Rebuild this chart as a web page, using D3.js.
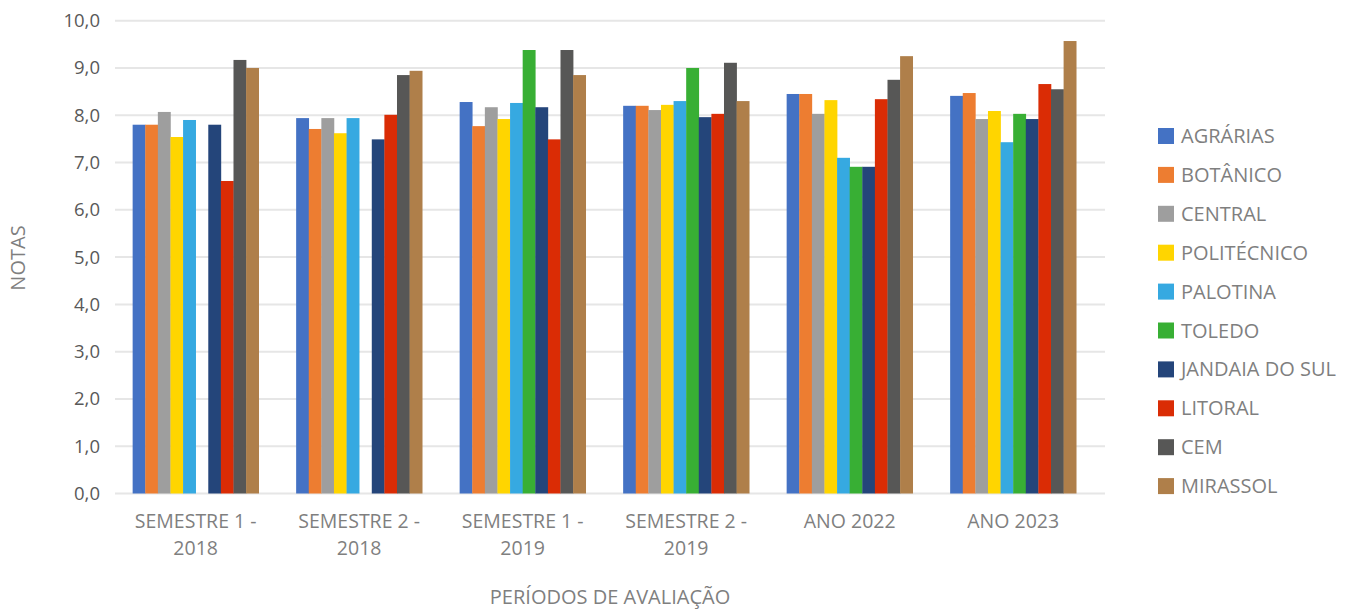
<!DOCTYPE html>
<html><head><meta charset="utf-8">
<script src="https://cdn.jsdelivr.net/npm/d3@7"></script>
<style>
body{margin:0;background:#fff;}
text{font-family:"Open Sans",sans-serif;}
</style></head>
<body><svg id="c" width="1349" height="609"></svg>
<script>
const periods = ["SEMESTRE 1 - 2018","SEMESTRE 2 - 2018","SEMESTRE 1 - 2019","SEMESTRE 2 - 2019","ANO 2022","ANO 2023"];
const periodLines = [["SEMESTRE 1 -","2018"],["SEMESTRE 2 -","2018"],["SEMESTRE 1 -","2019"],["SEMESTRE 2 -","2019"],["ANO 2022"],["ANO 2023"]];
const series = ["AGRÁRIAS","BOTÂNICO","CENTRAL","POLITÉCNICO","PALOTINA","TOLEDO","JANDAIA DO SUL","LITORAL","CEM","MIRASSOL"];
const colors = ["#4472C4","#ED7D31","#9E9E9E","#FFD500","#36A9E1","#38AF34","#24457A","#DA2C05","#575756","#AF7F4A"];
const agrarias   = [7.80, 7.94, 8.28, 8.20, 8.45, 8.41];
const botanico   = [7.80, 7.71, 7.77, 8.20, 8.45, 8.47];
const central    = [8.07, 7.94, 8.17, 8.11, 8.03, 7.92];
const politecnico= [7.54, 7.62, 7.92, 8.22, 8.32, 8.09];
const palotina   = [7.90, 7.94, 8.26, 8.30, 7.10, 7.43];
const toledo     = [0, 0, 9.38, 9.00, 6.91, 8.03];
const jandaia    = [7.80, 7.49, 8.17, 7.96, 6.91, 7.92];
const litoral    = [6.61, 8.01, 7.49, 8.03, 8.34, 8.66];
const cem        = [9.17, 8.85, 9.38, 9.11, 8.75, 8.55];
const mirassol   = [9.00, 8.94, 8.85, 8.30, 9.25, 9.57];
const yTicks = [0,1,2,3,4,5,6,7,8,9,10];
const values = [agrarias,botanico,central,politecnico,palotina,toledo,jandaia,litoral,cem,mirassol];

const svg = d3.select("#c");
const x0 = d3.scaleBand().domain(periods).range([115,1105]).paddingInner(0.229).paddingOuter(0.142).align(0.38);
const x1 = d3.scaleBand().domain(series).range([0,x0.bandwidth()]);
const y = d3.scaleLinear().domain([0,10]).range([493.5,20.7]);
const fmt = v => d3.format(".1f")(v).replace(".",",");

// gridlines
svg.append("g").selectAll("line").data(yTicks).join("line")
  .attr("x1",115).attr("x2",1105).attr("y1",d=>y(d)).attr("y2",d=>y(d))
  .attr("stroke","#E6E6E6").attr("stroke-width",2);

// y tick labels
svg.append("g").selectAll("text").data(yTicks).join("text")
  .attr("x",100).attr("y",d=>y(d)).attr("dy","0.35em").attr("text-anchor","end")
  .attr("font-size",18.5).attr("fill","#595959").text(fmt);

// bars
const groups = svg.append("g").selectAll("g").data(periods).join("g")
  .attr("transform",d=>`translate(${x0(d)},0)`);
groups.selectAll("rect").data((p,pi)=>series.map((s,si)=>({s,si,v:values[si][pi]})).filter(d=>d.v>0)).join("rect")
  .attr("x",d=>x1(d.s)).attr("width",x1.bandwidth()+0.3)
  .attr("y",d=>y(d.v)).attr("height",d=>y(0)-y(d.v))
  .attr("fill",d=>colors[d.si]);

// x labels
const xl = svg.append("g").selectAll("text").data(periods).join("text")
  .attr("x",d=>x0(d)+x0.bandwidth()/2).attr("y",528).attr("text-anchor","middle")
  .attr("font-size",19.5).attr("fill","#7F7F7F");
xl.selectAll("tspan").data((d,i)=>periodLines[i]).join("tspan")
  .attr("x",function(){return this.parentNode.getAttribute("x");})
  .attr("dy",(d,i)=>i===0?0:27).text(d=>d);

// axis titles
svg.append("text").attr("x",610).attr("y",604).attr("text-anchor","middle")
  .attr("font-size",20).attr("fill","#7F7F7F").text("PERÍODOS DE AVALIAÇÃO");
svg.append("text").attr("transform","translate(25,258) rotate(-90)").attr("text-anchor","middle")
  .attr("font-size",20).attr("fill","#7F7F7F").text("NOTAS");

// legend
const leg = svg.append("g").selectAll("g").data(series).join("g")
  .attr("transform",(d,i)=>`translate(1158,${136+i*38.9})`);
leg.append("rect").attr("x",0).attr("y",-8).attr("width",16).attr("height",16).attr("fill",(d,i)=>colors[i]);
leg.append("text").attr("x",23).attr("y",0).attr("dy","0.35em").attr("font-size",20).attr("fill","#7F7F7F").text(d=>d);
</script></body></html>
